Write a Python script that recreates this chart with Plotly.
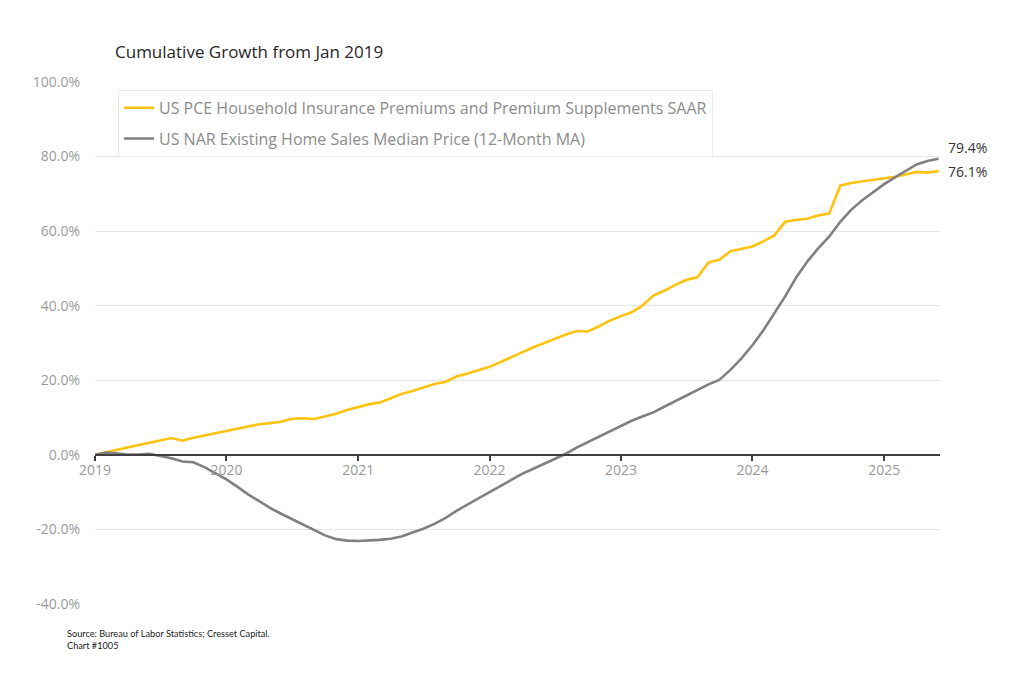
import plotly.graph_objects as go
import pandas as pd

# ---- data (cumulative % growth since Jan 2019, monthly) ----
dates = pd.date_range("2019-01-01", "2025-06-01", freq="MS")

insurance_premiums = [
    0.0, 0.6, 1.3, 2.0, 2.6, 3.1, 3.9, 4.5, 3.8, 4.6, 5.2, 5.8,
    6.4, 7.0, 7.5, 8.2, 8.5, 8.9, 9.7, 9.8, 9.6, 10.3, 11.0, 12.0,
    12.9, 13.6, 14.0, 15.2, 16.3, 17.1, 18.0, 19.0, 19.6, 21.0, 21.8, 22.6,
    23.6, 24.9, 26.2, 27.5, 28.8, 30.0, 31.2, 32.3, 33.2, 33.1, 34.5, 36.0,
    37.2, 38.3, 40.0, 42.7, 44.0, 45.6, 46.9, 47.6, 51.6, 52.3, 54.6, 55.2,
    55.9, 57.3, 58.8, 62.5, 63.0, 63.3, 64.2, 64.7, 72.2, 72.9, 73.3, 73.7,
    74.2, 74.6, 75.2, 75.9, 75.7, 76.1,
]

home_price_ma = [
    0.0, 0.6, 0.4, 0.1, 0.1, 0.3, -0.3, -0.9, -1.8, -2.0, -3.3, -5.0,
    -6.6, -8.6, -10.6, -12.4, -14.2, -15.8, -17.2, -18.7, -20.2, -21.6, -22.6, -23.0,
    -23.1, -23.0, -22.8, -22.5, -21.9, -20.8, -19.8, -18.5, -16.9, -15.0, -13.4, -11.7,
    -10.0, -8.3, -6.6, -5.1, -3.8, -2.4, -1.0, 0.3, 2.0, 3.4, 4.9, 6.3,
    7.8, 9.2, 10.3, 11.4, 12.9, 14.4, 15.8, 17.2, 18.9, 20.1, 22.8, 25.8,
    29.4, 33.5, 37.8, 42.5, 47.5, 51.8, 55.3, 58.5, 62.5, 65.7, 68.3, 70.5,
    72.6, 74.5, 76.2, 77.9, 78.8, 79.4,
]

series_names = [
    "US PCE Household Insurance Premiums and Premium Supplements SAAR",
    "US NAR Existing Home Sales Median Price (12-Month MA)",
]
y_ticks = [-40, -20, 0, 20, 40, 60, 80, 100]
y_tick_labels = [f"{v:.1f}%" for v in y_ticks]
x_ticks = pd.date_range("2019-01-01", "2025-01-01", freq="YS")
x_tick_labels = [str(d.year) for d in x_ticks]

YELLOW = "#FFC20E"
GRAY = "#808080"
Y_RANGE = [-40, 100]

fig = go.Figure()
fig.add_trace(go.Scatter(
    x=dates, y=insurance_premiums, mode="lines", name=series_names[0],
    line=dict(color=YELLOW, width=2.6), legendgroup="a",
))
fig.add_trace(go.Scatter(
    x=dates, y=home_price_ma, mode="lines", name=series_names[1],
    line=dict(color=GRAY, width=2.6), legendgroup="b",
))

# end-value labels
fig.add_annotation(x=dates[-1], y=home_price_ma[-1], text=f"{home_price_ma[-1]:.1f}%",
                   xanchor="left", yanchor="middle", xshift=7, yshift=11,
                   showarrow=False, font=dict(size=14, color="#333333"))
fig.add_annotation(x=dates[-1], y=insurance_premiums[-1], text=f"{insurance_premiums[-1]:.1f}%",
                   xanchor="left", yanchor="middle", xshift=7, yshift=0,
                   showarrow=False, font=dict(size=14, color="#333333"))

# source note
fig.add_annotation(xref="paper", yref="paper", x=-0.0355, y=-0.043,
                   text="Source: Bureau of Labor Statistics; Cresset Capital.<br>Chart #1005",
                   xanchor="left", yanchor="top", align="left", showarrow=False,
                   font=dict(family="Lato", size=9.2, color="#222222"))

zero_pos = (0 - Y_RANGE[0]) / (Y_RANGE[1] - Y_RANGE[0])

# page body adds an 8px offset; compensate in the margins
OFF = 8
fig.update_layout(
    width=1024, height=679,
    margin=dict(l=95 - OFF, r=84 + OFF, t=82 - OFF, b=75 + OFF),
    paper_bgcolor="white", plot_bgcolor="white",
    font=dict(family="Open Sans", color="#999999"),
    title=dict(text="Cumulative Growth from Jan 2019", xref="container", yref="container",
               x=(115 - OFF) / 1024, y=1 - (52 - OFF) / 679, xanchor="left", yanchor="middle",
               font=dict(family="Open Sans", size=17, color="#262626")),
    showlegend=True,
    legend=dict(x=(118 - 95) / 845, y=0.985, xanchor="left", yanchor="top",
                bgcolor="white", bordercolor="#ebebeb", borderwidth=1,
                font=dict(family="Open Sans", size=16, color="#8c8c8c"),
                tracegroupgap=7, itemwidth=30),
    xaxis=dict(type="date", range=["2019-01-01", "2025-06-05"],
               tickvals=x_ticks, ticktext=x_tick_labels,
               showgrid=False, zeroline=False,
               showline=True, linecolor="#404040", linewidth=2,
               ticks="outside", ticklen=5, tickwidth=1.5, tickcolor="#404040",
               ticklabelstandoff=-3,
               tickfont=dict(size=14, color="#999999"),
               anchor="free", position=zero_pos),
    yaxis=dict(range=Y_RANGE, tickvals=y_ticks, ticktext=y_tick_labels,
               showgrid=True, gridcolor="#e6e6e6", gridwidth=1,
               zeroline=False, showline=False,
               ticks="", ticklabelstandoff=14,
               tickfont=dict(size=14, color="#999999")),
)

fig.write_html("out.html")
